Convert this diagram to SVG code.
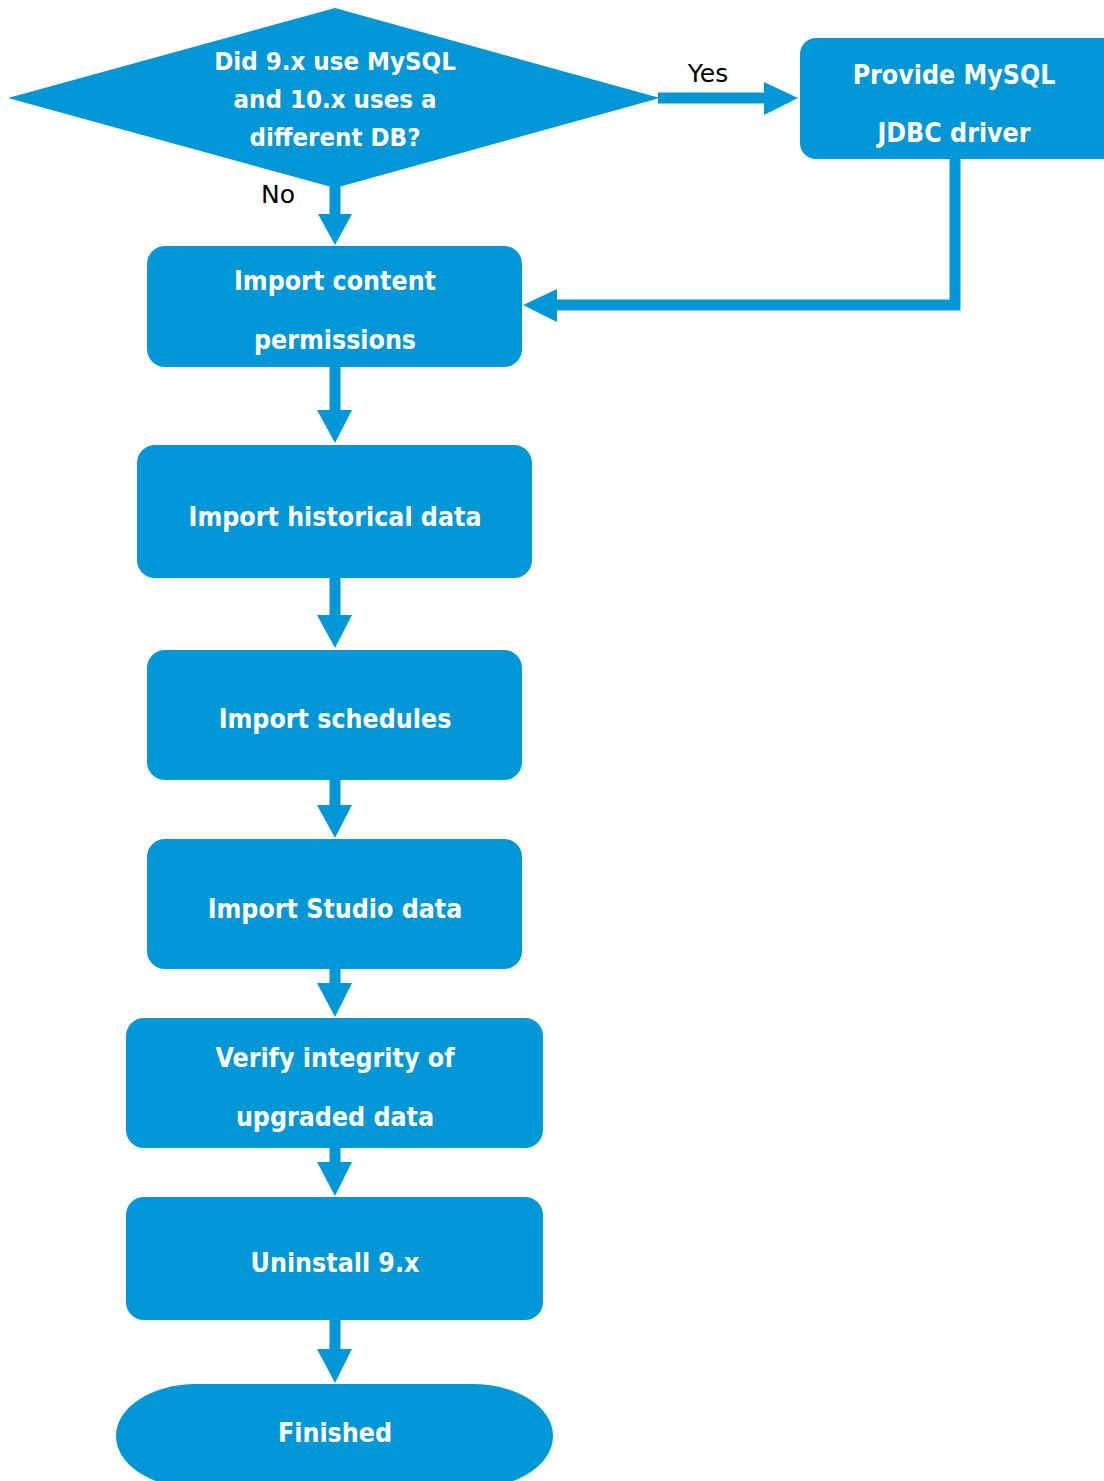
<svg xmlns="http://www.w3.org/2000/svg" width="1104" height="1481" viewBox="0 0 1104 1481">
<style>
.n{fill:#0197d6}
.t{fill:#fff;font-family:"DejaVu Sans Condensed","DejaVu Sans",sans-serif;font-stretch:condensed;font-weight:bold;font-size:26.5px;text-anchor:middle}
.d{font-size:25.6px}
.l{fill:#000;font-family:"DejaVu Sans",sans-serif;font-size:25px;text-anchor:middle}
.c{fill:none;stroke:#0197d6;stroke-width:11}
.h{fill:#0197d6}
</style>
<rect width="1104" height="1481" fill="#fff"/>
<g id="connectors">
<line class="c" x1="335" y1="186" x2="335" y2="218"/>
<polygon class="h" points="318,214 352,214 335,245"/>
<line class="c" x1="658" y1="98" x2="768" y2="98"/>
<polygon class="h" points="764,82 798,98 764,115"/>
<polyline class="c" points="955,158 955,305 552,305"/>
<polygon class="h" points="557,289 523,305 557,322"/>
<line class="c" x1="335" y1="366" x2="335" y2="413"/>
<polygon class="h" points="317,410 352,410 335,443"/>
<line class="c" x1="335" y1="577" x2="335" y2="618"/>
<polygon class="h" points="317,615 352,615 335,648"/>
<line class="c" x1="335" y1="779" x2="335" y2="808"/>
<polygon class="h" points="317,805 352,805 335,838"/>
<line class="c" x1="335" y1="968" x2="335" y2="986"/>
<polygon class="h" points="317,983 352,983 335,1017"/>
<line class="c" x1="335" y1="1147" x2="335" y2="1165"/>
<polygon class="h" points="317,1162 352,1162 335,1196"/>
<line class="c" x1="335" y1="1319" x2="335" y2="1352"/>
<polygon class="h" points="317,1349 352,1349 335,1383"/>
<text class="l" x="708" y="82">Yes</text>
<text class="l" x="278" y="203">No</text>
</g>
<g id="decision">
<polygon class="n" points="8,98 335,8 660,98 335,188"/>
<text class="t d" x="335" y="70">Did 9.x use MySQL</text>
<text class="t d" x="335" y="108">and 10.x uses a</text>
<text class="t d" x="335" y="146">different DB?</text>
</g>
<g id="provide">
<rect class="n" x="800" y="38" width="320" height="121" rx="16"/>
<text class="t" x="954" y="84">Provide MySQL</text>
<text class="t" x="954" y="142">JDBC driver</text>
</g>
<g id="permissions">
<rect class="n" x="147" y="246" width="375" height="121" rx="18"/>
<text class="t" x="335" y="290">Import content</text>
<text class="t" x="335" y="349">permissions</text>
</g>
<g id="historical">
<rect class="n" x="137" y="445" width="395" height="133" rx="18"/>
<text class="t" x="335" y="526">Import historical data</text>
</g>
<g id="schedules">
<rect class="n" x="147" y="650" width="375" height="130" rx="18"/>
<text class="t" x="335" y="728">Import schedules</text>
</g>
<g id="studio">
<rect class="n" x="147" y="839" width="375" height="130" rx="18"/>
<text class="t" x="335" y="918">Import Studio data</text>
</g>
<g id="verify">
<rect class="n" x="126" y="1018" width="417" height="130" rx="18"/>
<text class="t" x="335" y="1067">Verify integrity of</text>
<text class="t" x="335" y="1126">upgraded data</text>
</g>
<g id="uninstall">
<rect class="n" x="126" y="1197" width="417" height="123" rx="18"/>
<text class="t" x="335" y="1272">Uninstall 9.x</text>
</g>
<g id="finished">
<rect class="n" x="116" y="1384" width="437" height="104" rx="80" ry="52"/>
<text class="t" x="335" y="1442">Finished</text>
</g>
</svg>
